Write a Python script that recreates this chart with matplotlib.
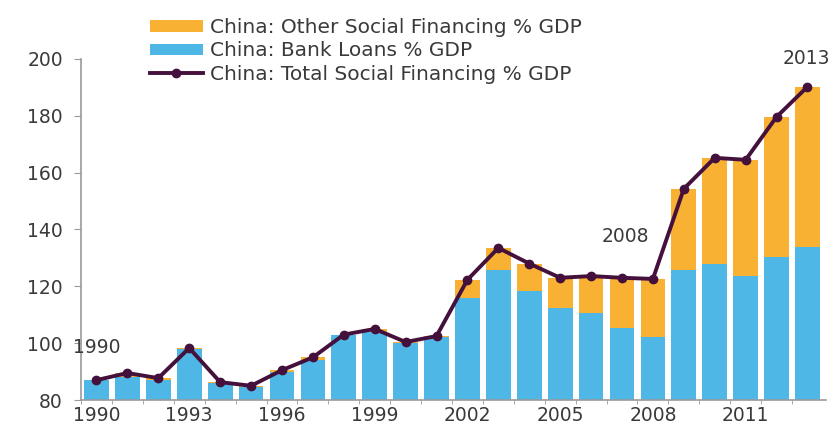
import numpy as np
import matplotlib.pyplot as plt

# Values (% of GDP)
years = list(range(1990, 2014))
total = [87, 89.5, 87.7, 98.3, 86.3, 85, 90.5, 95, 103, 105, 100.4, 102.5,
         122.3, 133.5, 128, 123, 123.6, 123, 122.6, 154.3, 165.2, 164.5, 179.6, 190.2]
bank = [87, 88.2, 87, 98, 86, 84.5, 90, 94, 103, 104, 100, 102,
        116, 125.8, 118.4, 112.4, 110.6, 105.3, 102.2, 125.8, 127.9, 123.6, 130.4, 133.8]
other = [max(t - b, 0) for t, b in zip(total, bank)]
tick_years = [1990, 1993, 1996, 1999, 2002, 2005, 2008, 2011]

orange = '#F8B133'
blue = '#4FB7E6'
purple = '#44103C'
txt = '#3a3a3a'

plt.rcParams['font.family'] = ['DejaVu Sans']

fig = plt.figure(figsize=(8.38, 4.34), dpi=100)
ax = fig.add_axes([0.0967, 0.0783, 0.889, 0.786])

x = np.arange(len(years))
b1 = ax.bar(x, bank, width=0.8, color=blue, zorder=2)
b2 = ax.bar(x, other, width=0.8, bottom=bank, color=orange, zorder=2)
ln, = ax.plot(x, total, color=purple, lw=2.8, marker='o', ms=6, zorder=3)

ax.set_ylim(80, 200)
ax.set_xlim(-0.5, len(years) - 0.4)
ax.set_yticks(range(80, 201, 20))
ax.set_xticks([years.index(y) for y in tick_years])
ax.set_xticklabels([str(y) for y in tick_years])
ax.set_xticks(np.arange(len(years)) - 0.5, minor=True)

for s in ['top', 'right']:
    ax.spines[s].set_visible(False)
for s in ['left', 'bottom']:
    ax.spines[s].set_color('#9a9a9a')
    ax.spines[s].set_linewidth(1.2)
ax.tick_params(axis='y', length=5, color='#9a9a9a', labelsize=13.5, labelcolor=txt, pad=8)
ax.tick_params(axis='x', which='major', length=0, labelsize=13.5, labelcolor=txt, pad=4)
ax.tick_params(axis='x', which='minor', length=3, color='#9a9a9a')

ax.text(0, 98.5, '1990', ha='center', va='center', fontsize=13.5, color=txt)
ax.text(17.1, 137.4, '2008', ha='center', va='center', fontsize=13.5, color=txt)
ax.text(22.95, 200.3, '2013', ha='center', va='center', fontsize=13.5, color=txt, clip_on=False)

ax.legend([b2, b1, ln],
          ['China: Other Social Financing % GDP', 'China: Bank Loans % GDP',
           'China: Total Social Financing % GDP'],
          loc='upper left', bbox_to_anchor=(0.093, 1.12), frameon=False,
          fontsize=14.5, labelcolor=txt, handlelength=2.6, handleheight=0.5,
          handletextpad=0.35, labelspacing=0.22, borderaxespad=0, borderpad=0)

fig.savefig('out.png', dpi=100)
